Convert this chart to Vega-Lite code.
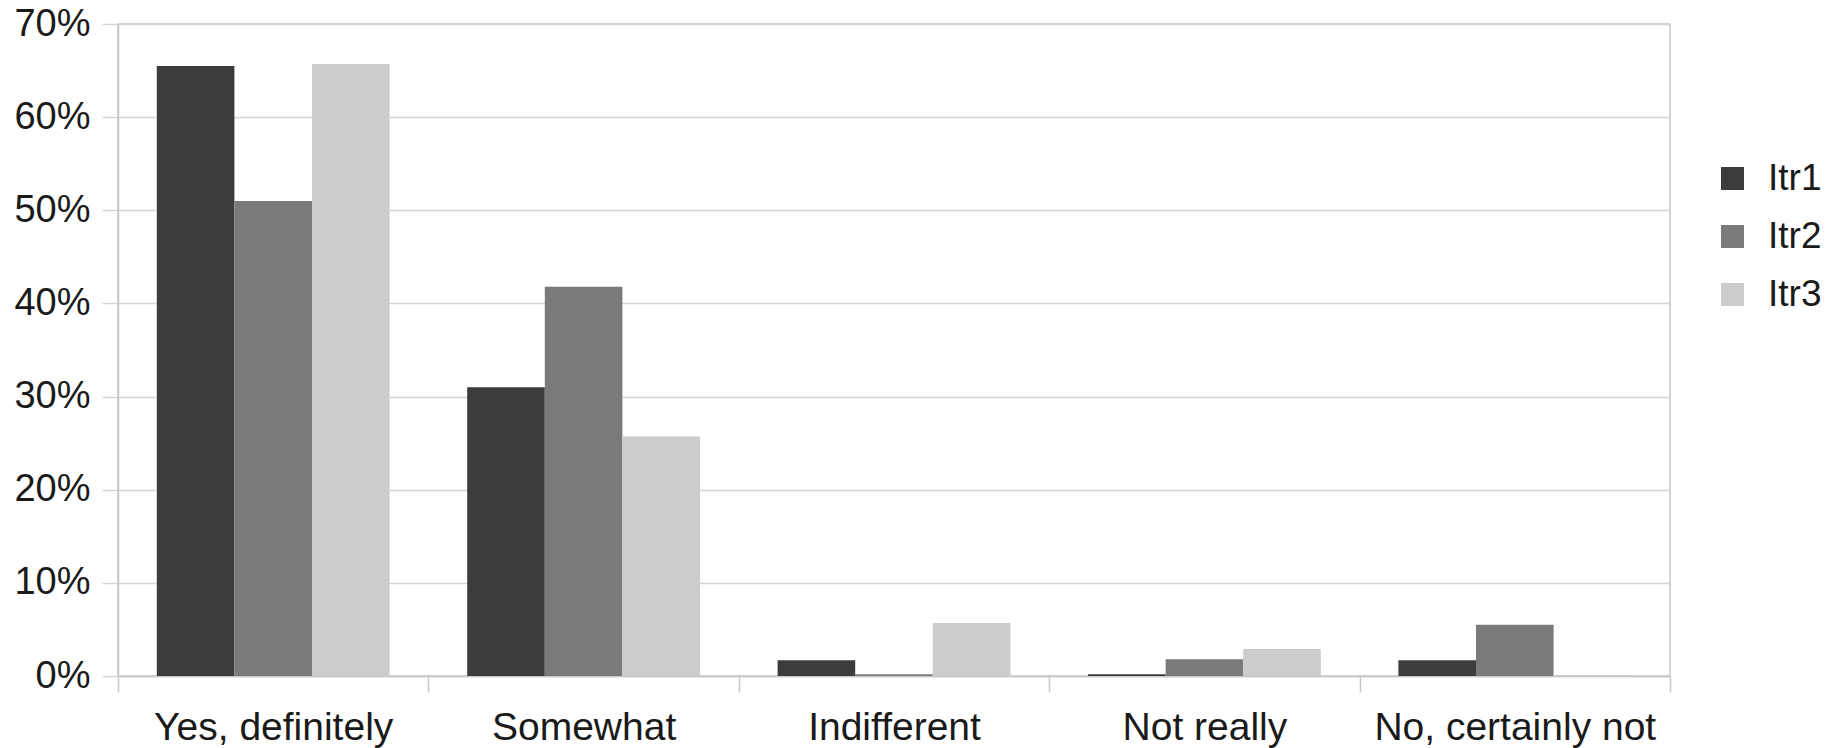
{
  "$schema": "https://vega.github.io/schema/vega-lite/v6.json",
  "width": 1552,
  "height": 652,
  "autosize": {"type": "none"},
  "padding": {"left": 118, "top": 24, "right": 163, "bottom": 72},
  "background": "white",
  "config": {
    "font": "Liberation Sans",
    "view": {"stroke": "#c8c8c8", "strokeWidth": 1.5}
  },
  "data": {
    "values": [
      {"answer": "Yes, definitely", "iteration": "Itr1", "value": 0.655},
      {"answer": "Yes, definitely", "iteration": "Itr2", "value": 0.510},
      {"answer": "Yes, definitely", "iteration": "Itr3", "value": 0.657},
      {"answer": "Somewhat", "iteration": "Itr1", "value": 0.310},
      {"answer": "Somewhat", "iteration": "Itr2", "value": 0.418},
      {"answer": "Somewhat", "iteration": "Itr3", "value": 0.257},
      {"answer": "Indifferent", "iteration": "Itr1", "value": 0.017},
      {"answer": "Indifferent", "iteration": "Itr2", "value": 0.002},
      {"answer": "Indifferent", "iteration": "Itr3", "value": 0.057},
      {"answer": "Not really", "iteration": "Itr1", "value": 0.002},
      {"answer": "Not really", "iteration": "Itr2", "value": 0.018},
      {"answer": "Not really", "iteration": "Itr3", "value": 0.029},
      {"answer": "No, certainly not", "iteration": "Itr1", "value": 0.017},
      {"answer": "No, certainly not", "iteration": "Itr2", "value": 0.055},
      {"answer": "No, certainly not", "iteration": "Itr3", "value": 0.001}
    ]
  },
  "mark": {"type": "bar"},
  "encoding": {
    "x": {
      "field": "answer",
      "type": "nominal",
      "sort": ["Yes, definitely", "Somewhat", "Indifferent", "Not really", "No, certainly not"],
      "scale": {"paddingInner": 0, "paddingOuter": 0},
      "axis": {
        "title": null,
        "labelAngle": 0,
        "tickBand": "extent",
        "grid": false,
        "domainColor": "#c8c8c8",
        "domainWidth": 1.5,
        "tickColor": "#c8c8c8",
        "tickWidth": 1.5,
        "tickSize": 16,
        "labelFontSize": 39,
        "labelColor": "#1a1a1a",
        "labelPadding": 16,
        "labelLimit": 0
      }
    },
    "xOffset": {
      "field": "iteration",
      "type": "nominal",
      "scale": {"paddingInner": 0, "paddingOuter": 0.5}
    },
    "y": {
      "field": "value",
      "type": "quantitative",
      "scale": {"domain": [0, 0.7], "nice": false},
      "axis": {
        "title": null,
        "format": ".0%",
        "values": [0, 0.1, 0.2, 0.3, 0.4, 0.5, 0.6, 0.7],
        "domainColor": "#c8c8c8",
        "domainWidth": 1.5,
        "gridColor": "#d4d4d4",
        "gridWidth": 1.5,
        "tickColor": "#d4d4d4",
        "tickWidth": 1.5,
        "tickSize": 16,
        "labelFontSize": 38,
        "labelColor": "#1a1a1a",
        "labelPadding": 12
      }
    },
    "color": {
      "field": "iteration",
      "type": "nominal",
      "scale": {"domain": ["Itr1", "Itr2", "Itr3"], "range": ["#3c3c3c", "#7a7a7a", "#cccccc"]},
      "legend": {
        "title": null,
        "orient": "none",
        "legendX": 1596,
        "legendY": 136,
        "padding": 0,
        "symbolType": "square",
        "symbolSize": 529,
        "symbolStrokeWidth": 0,
        "labelFontSize": 37,
        "labelColor": "#1a1a1a",
        "labelOffset": 17,
        "rowPadding": 20
      }
    }
  }
}
